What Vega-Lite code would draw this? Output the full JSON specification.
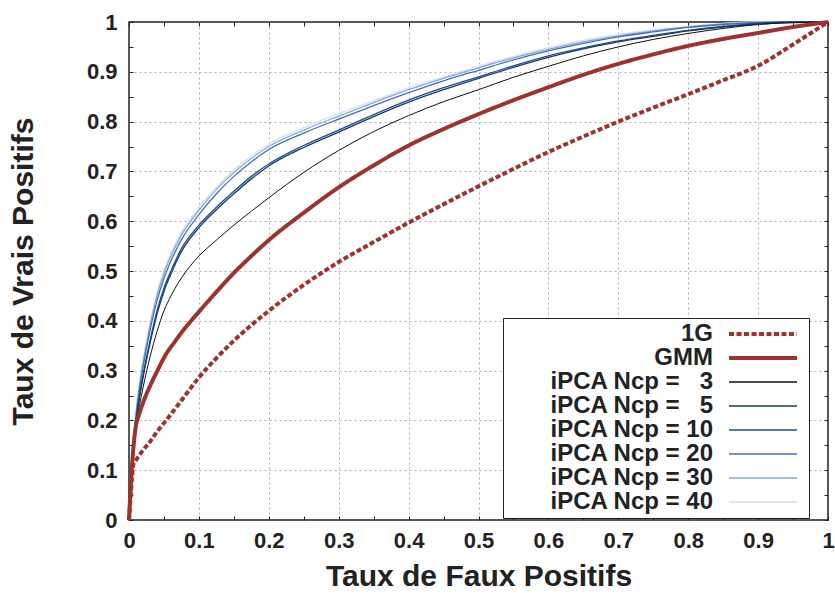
{
  "$schema": "https://vega.github.io/schema/vega-lite/v6.json",
  "width": 699,
  "height": 498,
  "autosize": "none",
  "padding": {"left": 129, "top": 22, "right": 7, "bottom": 73},
  "background": "white",
  "config": {
    "view": {"stroke": "#222222", "strokeWidth": 1.5},
    "font": "Liberation Sans",
    "axis": {"labelFont": "Liberation Sans", "titleFont": "Liberation Sans"}
  },
  "data": {"values": [
    {"s":"iPCA Ncp = 40","x":0,"y":0},{"s":"iPCA Ncp = 40","x":0.002,"y":0.083},{"s":"iPCA Ncp = 40","x":0.005,"y":0.145},{"s":"iPCA Ncp = 40","x":0.01,"y":0.22},{"s":"iPCA Ncp = 40","x":0.015,"y":0.276},{"s":"iPCA Ncp = 40","x":0.02,"y":0.321},{"s":"iPCA Ncp = 40","x":0.03,"y":0.396},{"s":"iPCA Ncp = 40","x":0.04,"y":0.456},{"s":"iPCA Ncp = 40","x":0.05,"y":0.501},{"s":"iPCA Ncp = 40","x":0.06,"y":0.536},{"s":"iPCA Ncp = 40","x":0.075,"y":0.578},{"s":"iPCA Ncp = 40","x":0.1,"y":0.628},{"s":"iPCA Ncp = 40","x":0.125,"y":0.669},{"s":"iPCA Ncp = 40","x":0.15,"y":0.703},{"s":"iPCA Ncp = 40","x":0.175,"y":0.731},{"s":"iPCA Ncp = 40","x":0.2,"y":0.755},{"s":"iPCA Ncp = 40","x":0.25,"y":0.788},{"s":"iPCA Ncp = 40","x":0.3,"y":0.816},{"s":"iPCA Ncp = 40","x":0.35,"y":0.842},{"s":"iPCA Ncp = 40","x":0.4,"y":0.868},{"s":"iPCA Ncp = 40","x":0.45,"y":0.89},{"s":"iPCA Ncp = 40","x":0.5,"y":0.911},{"s":"iPCA Ncp = 40","x":0.55,"y":0.931},{"s":"iPCA Ncp = 40","x":0.6,"y":0.948},{"s":"iPCA Ncp = 40","x":0.65,"y":0.963},{"s":"iPCA Ncp = 40","x":0.7,"y":0.975},{"s":"iPCA Ncp = 40","x":0.75,"y":0.984},{"s":"iPCA Ncp = 40","x":0.8,"y":0.991},{"s":"iPCA Ncp = 40","x":0.85,"y":0.997},{"s":"iPCA Ncp = 40","x":0.9,"y":1},{"s":"iPCA Ncp = 40","x":0.95,"y":1},{"s":"iPCA Ncp = 40","x":1,"y":1},
    {"s":"iPCA Ncp = 30","x":0,"y":0},{"s":"iPCA Ncp = 30","x":0.002,"y":0.08},{"s":"iPCA Ncp = 30","x":0.005,"y":0.14},{"s":"iPCA Ncp = 30","x":0.01,"y":0.215},{"s":"iPCA Ncp = 30","x":0.015,"y":0.27},{"s":"iPCA Ncp = 30","x":0.02,"y":0.315},{"s":"iPCA Ncp = 30","x":0.03,"y":0.39},{"s":"iPCA Ncp = 30","x":0.04,"y":0.45},{"s":"iPCA Ncp = 30","x":0.05,"y":0.495},{"s":"iPCA Ncp = 30","x":0.06,"y":0.53},{"s":"iPCA Ncp = 30","x":0.075,"y":0.572},{"s":"iPCA Ncp = 30","x":0.1,"y":0.622},{"s":"iPCA Ncp = 30","x":0.125,"y":0.664},{"s":"iPCA Ncp = 30","x":0.15,"y":0.698},{"s":"iPCA Ncp = 30","x":0.175,"y":0.726},{"s":"iPCA Ncp = 30","x":0.2,"y":0.75},{"s":"iPCA Ncp = 30","x":0.25,"y":0.783},{"s":"iPCA Ncp = 30","x":0.3,"y":0.811},{"s":"iPCA Ncp = 30","x":0.35,"y":0.838},{"s":"iPCA Ncp = 30","x":0.4,"y":0.864},{"s":"iPCA Ncp = 30","x":0.45,"y":0.887},{"s":"iPCA Ncp = 30","x":0.5,"y":0.908},{"s":"iPCA Ncp = 30","x":0.55,"y":0.928},{"s":"iPCA Ncp = 30","x":0.6,"y":0.945},{"s":"iPCA Ncp = 30","x":0.65,"y":0.96},{"s":"iPCA Ncp = 30","x":0.7,"y":0.972},{"s":"iPCA Ncp = 30","x":0.75,"y":0.982},{"s":"iPCA Ncp = 30","x":0.8,"y":0.99},{"s":"iPCA Ncp = 30","x":0.85,"y":0.996},{"s":"iPCA Ncp = 30","x":0.9,"y":0.999},{"s":"iPCA Ncp = 30","x":0.95,"y":1},{"s":"iPCA Ncp = 30","x":1,"y":1},
    {"s":"iPCA Ncp = 20","x":0,"y":0},{"s":"iPCA Ncp = 20","x":0.002,"y":0.077},{"s":"iPCA Ncp = 20","x":0.005,"y":0.135},{"s":"iPCA Ncp = 20","x":0.01,"y":0.208},{"s":"iPCA Ncp = 20","x":0.015,"y":0.262},{"s":"iPCA Ncp = 20","x":0.02,"y":0.306},{"s":"iPCA Ncp = 20","x":0.03,"y":0.38},{"s":"iPCA Ncp = 20","x":0.04,"y":0.44},{"s":"iPCA Ncp = 20","x":0.05,"y":0.485},{"s":"iPCA Ncp = 20","x":0.06,"y":0.52},{"s":"iPCA Ncp = 20","x":0.075,"y":0.563},{"s":"iPCA Ncp = 20","x":0.1,"y":0.613},{"s":"iPCA Ncp = 20","x":0.125,"y":0.655},{"s":"iPCA Ncp = 20","x":0.15,"y":0.69},{"s":"iPCA Ncp = 20","x":0.175,"y":0.719},{"s":"iPCA Ncp = 20","x":0.2,"y":0.744},{"s":"iPCA Ncp = 20","x":0.25,"y":0.777},{"s":"iPCA Ncp = 20","x":0.3,"y":0.805},{"s":"iPCA Ncp = 20","x":0.35,"y":0.832},{"s":"iPCA Ncp = 20","x":0.4,"y":0.858},{"s":"iPCA Ncp = 20","x":0.45,"y":0.882},{"s":"iPCA Ncp = 20","x":0.5,"y":0.903},{"s":"iPCA Ncp = 20","x":0.55,"y":0.924},{"s":"iPCA Ncp = 20","x":0.6,"y":0.942},{"s":"iPCA Ncp = 20","x":0.65,"y":0.957},{"s":"iPCA Ncp = 20","x":0.7,"y":0.97},{"s":"iPCA Ncp = 20","x":0.75,"y":0.98},{"s":"iPCA Ncp = 20","x":0.8,"y":0.989},{"s":"iPCA Ncp = 20","x":0.85,"y":0.995},{"s":"iPCA Ncp = 20","x":0.9,"y":0.999},{"s":"iPCA Ncp = 20","x":0.95,"y":1},{"s":"iPCA Ncp = 20","x":1,"y":1},
    {"s":"iPCA Ncp = 10","x":0,"y":0},{"s":"iPCA Ncp = 10","x":0.002,"y":0.07},{"s":"iPCA Ncp = 10","x":0.005,"y":0.13},{"s":"iPCA Ncp = 10","x":0.01,"y":0.2},{"s":"iPCA Ncp = 10","x":0.015,"y":0.25},{"s":"iPCA Ncp = 10","x":0.02,"y":0.29},{"s":"iPCA Ncp = 10","x":0.03,"y":0.36},{"s":"iPCA Ncp = 10","x":0.04,"y":0.42},{"s":"iPCA Ncp = 10","x":0.05,"y":0.466},{"s":"iPCA Ncp = 10","x":0.06,"y":0.5},{"s":"iPCA Ncp = 10","x":0.075,"y":0.545},{"s":"iPCA Ncp = 10","x":0.1,"y":0.592},{"s":"iPCA Ncp = 10","x":0.125,"y":0.628},{"s":"iPCA Ncp = 10","x":0.15,"y":0.66},{"s":"iPCA Ncp = 10","x":0.175,"y":0.69},{"s":"iPCA Ncp = 10","x":0.2,"y":0.715},{"s":"iPCA Ncp = 10","x":0.25,"y":0.752},{"s":"iPCA Ncp = 10","x":0.3,"y":0.783},{"s":"iPCA Ncp = 10","x":0.35,"y":0.814},{"s":"iPCA Ncp = 10","x":0.4,"y":0.843},{"s":"iPCA Ncp = 10","x":0.45,"y":0.868},{"s":"iPCA Ncp = 10","x":0.5,"y":0.89},{"s":"iPCA Ncp = 10","x":0.55,"y":0.912},{"s":"iPCA Ncp = 10","x":0.6,"y":0.932},{"s":"iPCA Ncp = 10","x":0.65,"y":0.948},{"s":"iPCA Ncp = 10","x":0.7,"y":0.962},{"s":"iPCA Ncp = 10","x":0.75,"y":0.973},{"s":"iPCA Ncp = 10","x":0.8,"y":0.983},{"s":"iPCA Ncp = 10","x":0.85,"y":0.991},{"s":"iPCA Ncp = 10","x":0.9,"y":0.997},{"s":"iPCA Ncp = 10","x":0.95,"y":1},{"s":"iPCA Ncp = 10","x":1,"y":1},
    {"s":"iPCA Ncp = \u20075","x":0,"y":0},{"s":"iPCA Ncp = \u20075","x":0.002,"y":0.068},{"s":"iPCA Ncp = \u20075","x":0.005,"y":0.127},{"s":"iPCA Ncp = \u20075","x":0.01,"y":0.196},{"s":"iPCA Ncp = \u20075","x":0.015,"y":0.245},{"s":"iPCA Ncp = \u20075","x":0.02,"y":0.285},{"s":"iPCA Ncp = \u20075","x":0.03,"y":0.354},{"s":"iPCA Ncp = \u20075","x":0.04,"y":0.413},{"s":"iPCA Ncp = \u20075","x":0.05,"y":0.459},{"s":"iPCA Ncp = \u20075","x":0.06,"y":0.494},{"s":"iPCA Ncp = \u20075","x":0.075,"y":0.539},{"s":"iPCA Ncp = \u20075","x":0.1,"y":0.587},{"s":"iPCA Ncp = \u20075","x":0.125,"y":0.623},{"s":"iPCA Ncp = \u20075","x":0.15,"y":0.655},{"s":"iPCA Ncp = \u20075","x":0.175,"y":0.685},{"s":"iPCA Ncp = \u20075","x":0.2,"y":0.711},{"s":"iPCA Ncp = \u20075","x":0.25,"y":0.748},{"s":"iPCA Ncp = \u20075","x":0.3,"y":0.779},{"s":"iPCA Ncp = \u20075","x":0.35,"y":0.81},{"s":"iPCA Ncp = \u20075","x":0.4,"y":0.839},{"s":"iPCA Ncp = \u20075","x":0.45,"y":0.864},{"s":"iPCA Ncp = \u20075","x":0.5,"y":0.887},{"s":"iPCA Ncp = \u20075","x":0.55,"y":0.909},{"s":"iPCA Ncp = \u20075","x":0.6,"y":0.929},{"s":"iPCA Ncp = \u20075","x":0.65,"y":0.946},{"s":"iPCA Ncp = \u20075","x":0.7,"y":0.96},{"s":"iPCA Ncp = \u20075","x":0.75,"y":0.971},{"s":"iPCA Ncp = \u20075","x":0.8,"y":0.982},{"s":"iPCA Ncp = \u20075","x":0.85,"y":0.99},{"s":"iPCA Ncp = \u20075","x":0.9,"y":0.996},{"s":"iPCA Ncp = \u20075","x":0.95,"y":0.999},{"s":"iPCA Ncp = \u20075","x":1,"y":1},
    {"s":"iPCA Ncp = \u20073","x":0,"y":0},{"s":"iPCA Ncp = \u20073","x":0.002,"y":0.06},{"s":"iPCA Ncp = \u20073","x":0.005,"y":0.12},{"s":"iPCA Ncp = \u20073","x":0.01,"y":0.19},{"s":"iPCA Ncp = \u20073","x":0.015,"y":0.23},{"s":"iPCA Ncp = \u20073","x":0.02,"y":0.265},{"s":"iPCA Ncp = \u20073","x":0.03,"y":0.327},{"s":"iPCA Ncp = \u20073","x":0.04,"y":0.378},{"s":"iPCA Ncp = \u20073","x":0.05,"y":0.42},{"s":"iPCA Ncp = \u20073","x":0.06,"y":0.45},{"s":"iPCA Ncp = \u20073","x":0.075,"y":0.486},{"s":"iPCA Ncp = \u20073","x":0.1,"y":0.53},{"s":"iPCA Ncp = \u20073","x":0.125,"y":0.562},{"s":"iPCA Ncp = \u20073","x":0.15,"y":0.592},{"s":"iPCA Ncp = \u20073","x":0.175,"y":0.62},{"s":"iPCA Ncp = \u20073","x":0.2,"y":0.647},{"s":"iPCA Ncp = \u20073","x":0.25,"y":0.698},{"s":"iPCA Ncp = \u20073","x":0.3,"y":0.742},{"s":"iPCA Ncp = \u20073","x":0.35,"y":0.78},{"s":"iPCA Ncp = \u20073","x":0.4,"y":0.812},{"s":"iPCA Ncp = \u20073","x":0.45,"y":0.84},{"s":"iPCA Ncp = \u20073","x":0.5,"y":0.864},{"s":"iPCA Ncp = \u20073","x":0.55,"y":0.889},{"s":"iPCA Ncp = \u20073","x":0.6,"y":0.911},{"s":"iPCA Ncp = \u20073","x":0.65,"y":0.932},{"s":"iPCA Ncp = \u20073","x":0.7,"y":0.95},{"s":"iPCA Ncp = \u20073","x":0.75,"y":0.965},{"s":"iPCA Ncp = \u20073","x":0.8,"y":0.977},{"s":"iPCA Ncp = \u20073","x":0.85,"y":0.987},{"s":"iPCA Ncp = \u20073","x":0.9,"y":0.995},{"s":"iPCA Ncp = \u20073","x":0.95,"y":0.999},{"s":"iPCA Ncp = \u20073","x":1,"y":1},
    {"s":"1G","x":0,"y":0},{"s":"1G","x":0.002,"y":0.04},{"s":"1G","x":0.004,"y":0.08},{"s":"1G","x":0.006,"y":0.11},{"s":"1G","x":0.01,"y":0.12},{"s":"1G","x":0.02,"y":0.14},{"s":"1G","x":0.03,"y":0.157},{"s":"1G","x":0.04,"y":0.177},{"s":"1G","x":0.057,"y":0.207},{"s":"1G","x":0.075,"y":0.24},{"s":"1G","x":0.1,"y":0.286},{"s":"1G","x":0.125,"y":0.325},{"s":"1G","x":0.15,"y":0.36},{"s":"1G","x":0.2,"y":0.42},{"s":"1G","x":0.25,"y":0.472},{"s":"1G","x":0.3,"y":0.518},{"s":"1G","x":0.35,"y":0.558},{"s":"1G","x":0.4,"y":0.597},{"s":"1G","x":0.45,"y":0.634},{"s":"1G","x":0.5,"y":0.67},{"s":"1G","x":0.55,"y":0.705},{"s":"1G","x":0.6,"y":0.739},{"s":"1G","x":0.65,"y":0.77},{"s":"1G","x":0.7,"y":0.8},{"s":"1G","x":0.75,"y":0.828},{"s":"1G","x":0.8,"y":0.855},{"s":"1G","x":0.85,"y":0.883},{"s":"1G","x":0.9,"y":0.912},{"s":"1G","x":0.95,"y":0.955},{"s":"1G","x":1,"y":1},
    {"s":"GMM","x":0,"y":0},{"s":"GMM","x":0.003,"y":0.08},{"s":"GMM","x":0.006,"y":0.14},{"s":"GMM","x":0.01,"y":0.19},{"s":"GMM","x":0.014,"y":0.21},{"s":"GMM","x":0.02,"y":0.235},{"s":"GMM","x":0.032,"y":0.275},{"s":"GMM","x":0.04,"y":0.298},{"s":"GMM","x":0.053,"y":0.333},{"s":"GMM","x":0.065,"y":0.357},{"s":"GMM","x":0.076,"y":0.378},{"s":"GMM","x":0.1,"y":0.418},{"s":"GMM","x":0.125,"y":0.458},{"s":"GMM","x":0.15,"y":0.496},{"s":"GMM","x":0.175,"y":0.53},{"s":"GMM","x":0.2,"y":0.562},{"s":"GMM","x":0.25,"y":0.617},{"s":"GMM","x":0.3,"y":0.668},{"s":"GMM","x":0.35,"y":0.712},{"s":"GMM","x":0.4,"y":0.752},{"s":"GMM","x":0.45,"y":0.785},{"s":"GMM","x":0.5,"y":0.815},{"s":"GMM","x":0.55,"y":0.843},{"s":"GMM","x":0.6,"y":0.869},{"s":"GMM","x":0.65,"y":0.894},{"s":"GMM","x":0.7,"y":0.916},{"s":"GMM","x":0.75,"y":0.935},{"s":"GMM","x":0.8,"y":0.952},{"s":"GMM","x":0.85,"y":0.966},{"s":"GMM","x":0.9,"y":0.978},{"s":"GMM","x":0.95,"y":0.99},{"s":"GMM","x":1,"y":1}
  ]},
  "layer": [
    {
      "transform": [{"filter": {"field": "s", "oneOf": ["iPCA Ncp = \u20075", "iPCA Ncp = 10", "iPCA Ncp = 20", "iPCA Ncp = 30", "iPCA Ncp = 40"]}}],
      "mark": {"type": "line", "strokeWidth": 1.3, "strokeJoin": "round", "interpolate": "monotone"},
      "encoding": {
        "x": {"field": "x", "type": "quantitative", "scale": {"domain": [0, 1], "nice": false, "zero": false},
          "axis": {"orient": "bottom", "title": "Taux de Faux Positifs",
            "values": [0,0.05,0.1,0.15,0.2,0.25,0.3,0.35,0.4,0.45,0.5,0.55,0.6,0.65,0.7,0.75,0.8,0.85,0.9,0.95,1],
            "labelExpr": "abs(datum.value*10 - round(datum.value*10)) < 0.01 ? format(datum.value, '~g') : ''",
            "labelFontSize": 22, "labelFontWeight": "bold", "labelColor": "#222222", "labelPadding": 14, "labelFlush": false, "labelOverlap": false,
            "titleFontSize": 30, "titleFontWeight": "bold", "titleColor": "#222222", "titlePadding": 10,
            "tickSize": -4, "tickColor": "#222222", "tickWidth": 1,
            "domain": false,
            "grid": true, "gridColor": "#b0b0b0", "gridDash": [2, 3], "gridWidth": 1,
            "gridOpacity": {"condition": {"test": "abs(datum.value*10 - round(datum.value*10)) < 0.01 && datum.value > 0.01 && datum.value < 0.99", "value": 1}, "value": 0}}},
        "y": {"field": "y", "type": "quantitative", "scale": {"domain": [0, 1], "nice": false, "zero": false},
          "axis": {"orient": "left", "title": "Taux de Vrais Positifs",
            "values": [0,0.05,0.1,0.15,0.2,0.25,0.3,0.35,0.4,0.45,0.5,0.55,0.6,0.65,0.7,0.75,0.8,0.85,0.9,0.95,1],
            "labelExpr": "abs(datum.value*10 - round(datum.value*10)) < 0.01 ? format(datum.value, '~g') : ''",
            "labelFontSize": 22, "labelFontWeight": "bold", "labelColor": "#222222", "labelPadding": 16, "labelFlush": false, "labelOverlap": false,
            "titleFontSize": 30, "titleFontWeight": "bold", "titleColor": "#222222", "titlePadding": 48,
            "tickSize": -4, "tickColor": "#222222", "tickWidth": 1,
            "domain": false,
            "grid": true, "gridColor": "#b0b0b0", "gridDash": [2, 3], "gridWidth": 1,
            "gridOpacity": {"condition": {"test": "abs(datum.value*10 - round(datum.value*10)) < 0.01 && datum.value > 0.01 && datum.value < 0.99", "value": 1}, "value": 0}}},
        "color": {"field": "s", "type": "nominal",
          "scale": {"domain": ["1G", "GMM", "iPCA Ncp = \u20073", "iPCA Ncp = \u20075", "iPCA Ncp = 10", "iPCA Ncp = 20", "iPCA Ncp = 30", "iPCA Ncp = 40"],
            "range": ["#9a3431", "#9a3431", "#111111", "#1b3a6b", "#1f4e8c", "#4470b0", "#88a8d8", "#d4e1f2"]},
          "legend": {"title": null, "orient": "none", "legendX": 374, "legendY": 296,
            "symbolType": "stroke", "symbolSize": 100,
            "labelFont": "Liberation Sans", "labelFontSize": 24, "labelFontWeight": "bold", "labelColor": "#222222", "labelLimit": 400,
            "strokeColor": "#222222", "fillColor": "white", "padding": 4, "rowPadding": 0,
            "encode": {
              "labels": {"update": {"align": {"value": "right"}, "x": {"value": 206}}},
              "symbols": {"update": {"x": {"value": 256}, "size": {"value": 4624}, "opacity": {"value": 1},
                "strokeWidth": {"signal": "datum.value === '1G' || datum.value === 'GMM' ? 4 : 1.3"},
                "strokeDash": {"signal": "datum.value === '1G' ? [5, 2.5] : [1, 0]"}}}
            }}}
      }
    },
    {
      "transform": [{"filter": {"field": "s", "equal": "iPCA Ncp = \u20073"}}],
      "mark": {"type": "line", "strokeWidth": 1, "strokeJoin": "round", "interpolate": "monotone"},
      "encoding": {
        "x": {"field": "x", "type": "quantitative", "axis": null},
        "y": {"field": "y", "type": "quantitative", "axis": null},
        "color": {"field": "s", "type": "nominal"}
      }
    },
    {
      "transform": [{"filter": {"field": "s", "oneOf": ["1G", "GMM"]}}],
      "mark": {"type": "line", "strokeWidth": 4, "strokeJoin": "round", "strokeCap": "butt", "interpolate": "monotone"},
      "encoding": {
        "x": {"field": "x", "type": "quantitative", "axis": null},
        "y": {"field": "y", "type": "quantitative", "axis": null},
        "color": {"field": "s", "type": "nominal"},
        "strokeDash": {"field": "s", "type": "nominal",
          "scale": {"domain": ["1G", "GMM"], "range": [[5, 2.5], [1, 0]]},
          "legend": null}
      }
    },
    {
      "mark": {"type": "line", "opacity": 0},
      "encoding": {
        "x": {"field": "x", "type": "quantitative",
          "axis": {"orient": "top", "title": null, "labels": false, "grid": false, "domain": false,
            "values": [0,0.05,0.1,0.15,0.2,0.25,0.3,0.35,0.4,0.45,0.5,0.55,0.6,0.65,0.7,0.75,0.8,0.85,0.9,0.95,1],
            "tickSize": -4, "tickColor": "#222222", "tickWidth": 1}},
        "y": {"field": "y", "type": "quantitative",
          "axis": {"orient": "right", "title": null, "labels": false, "grid": false, "domain": false,
            "values": [0,0.05,0.1,0.15,0.2,0.25,0.3,0.35,0.4,0.45,0.5,0.55,0.6,0.65,0.7,0.75,0.8,0.85,0.9,0.95,1],
            "tickSize": -4, "tickColor": "#222222", "tickWidth": 1}}
      }
    }
  ],
  "resolve": {"axis": {"x": "independent", "y": "independent"}}
}
